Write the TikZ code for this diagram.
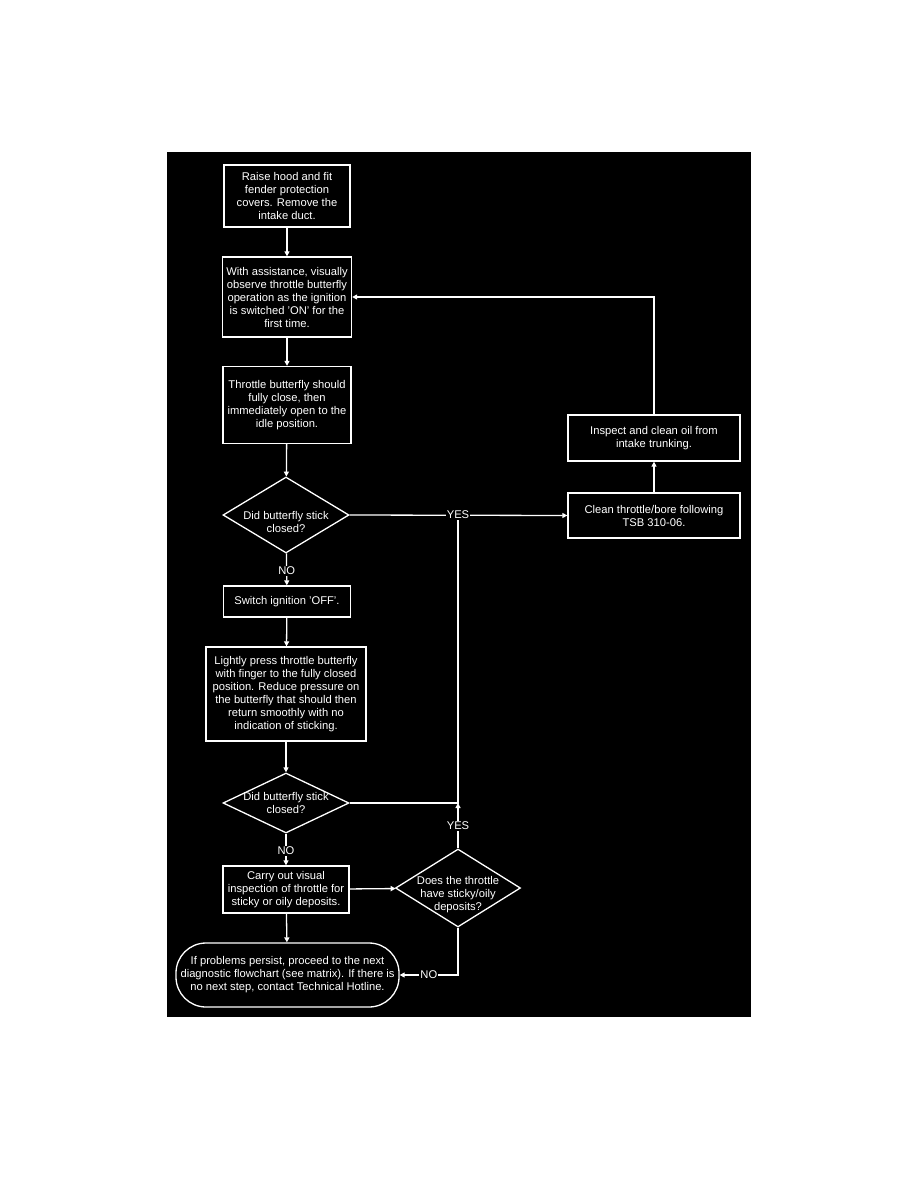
\documentclass[tikz,border=0pt]{standalone}
\usepackage{fontspec}
\setmainfont{Liberation Sans}
\usetikzlibrary{shapes.geometric,arrows.meta}
\begin{document}
\begin{tikzpicture}[x=1pt,y=-1pt,
  txt/.style={text=white, font=\fontsize{11.2}{13}\selectfont},
  box/.style={txt, draw=white, line width=1.3pt, align=center, inner sep=1pt},
  dia/.style={draw=white, line width=1.3pt, diamond, inner sep=0pt, minimum width=126pt},
  dtext/.style={txt, align=center},
  lbl/.style={txt, fill=black, inner sep=1pt},
  conn/.style={draw=white, line width=1.3pt},
  arr/.style={conn, -{Triangle[width=5pt,length=5pt]}}]
\useasboundingbox (0,0) rectangle (918,1188);
\fill[white] (0,0) rectangle (918,1188);
\fill[black] (167,152) rectangle (751,1017);

\node[box, minimum width=126pt, minimum height=62pt] (b1) at (287,196)
  {Raise hood and fit\\fender protection\\covers. Remove the\\intake duct.};
\node[box, minimum width=129pt, minimum height=80pt] (b2) at (287,297)
  {With assistance, visually\\observe throttle butterfly\\operation as the ignition\\is switched 'ON' for the\\first time.};
\node[box, minimum width=128pt, minimum height=77pt] (b3) at (287,405)
  {Throttle butterfly should\\fully close, then\\immediately open to the\\idle position.};
\node[dia, minimum height=76pt] (d1) at (286,515) {};
\node[dtext] at (286,522) {Did butterfly stick\\closed?};
\node[box, minimum width=127pt, minimum height=31pt] (b4) at (287,601.5)
  {Switch ignition 'OFF'.};
\node[box, minimum width=160pt, minimum height=94pt] (b5) at (286,694)
  {Lightly press throttle butterfly\\with finger to the fully closed\\position. Reduce pressure on\\the butterfly that should then\\return smoothly with no\\indication of sticking.};
\node[dia, minimum height=60pt] (d2) at (286,803) {};
\node[dtext] at (286,803) {Did butterfly stick\\closed?};
\node[box, minimum width=126pt, minimum height=47pt] (b6) at (286,889.5)
  {Carry out visual\\inspection of throttle for\\sticky or oily deposits.};
\node[dia, minimum width=125pt, minimum height=78pt] (d3) at (458,888) {};
\node[dtext] at (458,895) {Does the throttle\\have sticky/oily\\deposits?};
\node[box, minimum width=223pt, minimum height=64pt, rounded corners=30pt] (t) at (287.5,975)
  {If problems persist, proceed to the next\\diagnostic flowchart (see matrix). If there is\\no next step, contact Technical Hotline.};
\node[box, minimum width=172pt, minimum height=46pt] (r1) at (654,438)
  {Inspect and clean oil from\\intake trunking.};
\node[box, minimum width=172pt, minimum height=45pt] (r2) at (654,515.5)
  {Clean throttle/bore following\\TSB 310-06.};

\coordinate (j1) at (458,515);
\coordinate (j2) at (458,803);

\draw[arr] (b1) -- (b2);
\draw[arr] (b2) -- (b3);
\draw[arr] (b3) -- (d1);
\draw[arr] (d1) -- node[lbl, pos=0.55] {NO} (b4);
\draw[arr] (b4) -- (b5);
\draw[arr] (b5) -- (d2);
\draw[arr] (d2) -- node[lbl, pos=0.55] {NO} (b6);
\draw[arr] (b6) -- (d3);
\draw[arr] (b6) -- (t);
\draw[conn] (d2.east) -- (j2) -- (j1);
\draw[arr] (d1.east) -- (r2.west);
\node[lbl] at (j1) {YES};
\draw[arr] (d3.north) -- node[lbl, pos=0.5] {YES} (j2);
\draw[arr] (d3.south) |- node[lbl, pos=0.75] {NO} (t.east);
\draw[arr] (r2) -- (r1);
\draw[arr] (r1.north) |- (b2.east);
\end{tikzpicture}
\end{document}
